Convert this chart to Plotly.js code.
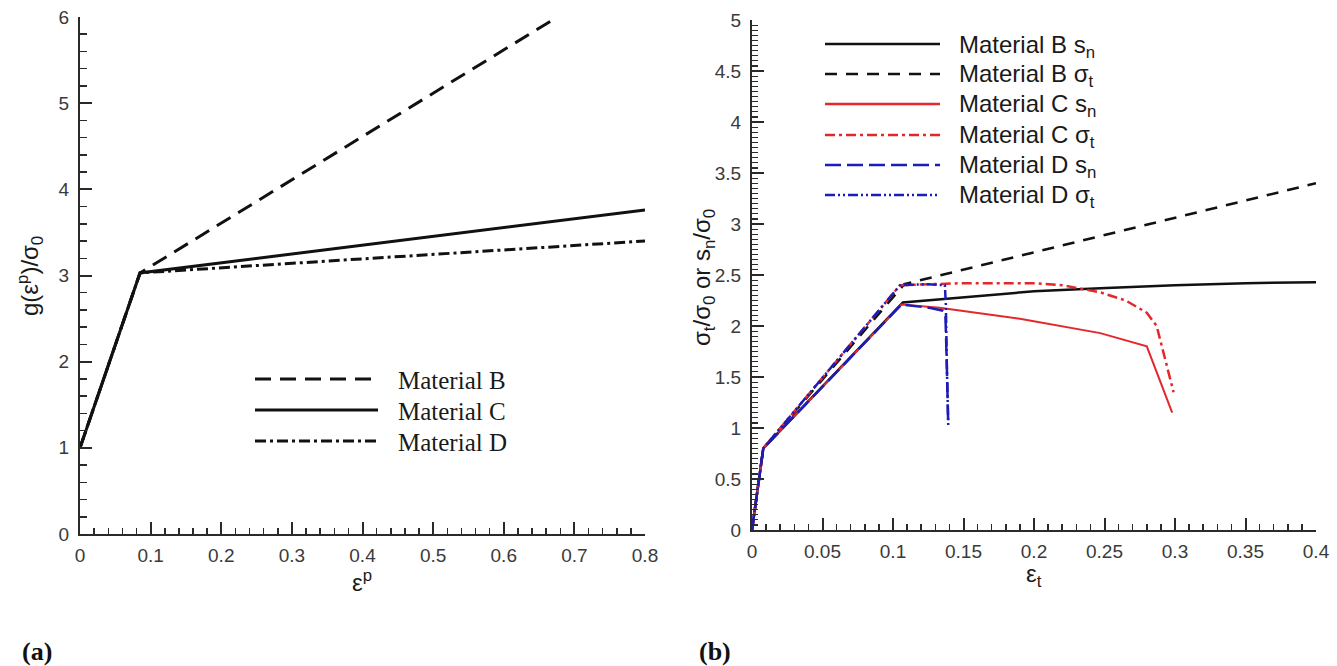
<!DOCTYPE html>
<html>
<head>
<meta charset="utf-8">
<script src="https://cdn.plot.ly/plotly-3.0.1.min.js"></script>
<style>
  html, body { margin: 0; padding: 0; background: #fff; }
  #chart { width: 1337px; height: 666px; }
</style>
</head>
<body>
<div id="chart"></div>
<script>
// ---- (a) hardening functions g(eps_p)/sigma_0 ----
const epsP_B = [0, 0.085, 0.676];
const g_B    = [1, 3.03, 6.0];
const epsP_C = [0, 0.085, 0.8];
const g_C    = [1, 3.03, 3.76];
const epsP_D = [0, 0.085, 0.8];
const g_D    = [1, 3.03, 3.40];
const legendA = ['Material B', 'Material C', 'Material D'];

// ---- (b) normalised traction vs. eps_t ----
const epsT_Bsn = [0, 0.008, 0.107, 0.133, 0.17, 0.2, 0.247, 0.3, 0.35, 0.4];
const Bsn      = [0, 0.8, 2.23, 2.26, 2.30, 2.34, 2.37, 2.40, 2.42, 2.43];
const epsT_Bst = [0, 0.008, 0.108, 0.4];
const Bst      = [0, 0.8, 2.41, 3.40];
const epsT_Csn = [0, 0.008, 0.106, 0.133, 0.19, 0.247, 0.28, 0.298];
const Csn      = [0, 0.8, 2.21, 2.18, 2.07, 1.93, 1.80, 1.15];
const epsT_Cst = [0, 0.008, 0.105, 0.15, 0.2, 0.22, 0.247, 0.265, 0.28, 0.287, 0.299];
const Cst      = [0, 0.8, 2.40, 2.42, 2.42, 2.40, 2.33, 2.25, 2.13, 2.0, 1.35];
const epsT_Dsn = [0, 0.008, 0.106, 0.125, 0.1355, 0.1372, 0.1382, 0.1392];
const Dsn      = [0, 0.8, 2.21, 2.18, 2.15, 2.10, 1.6, 1.02];
const epsT_Dst = [0, 0.008, 0.105, 0.125, 0.1368, 0.1375, 0.1382, 0.1392];
const Dst      = [0, 0.8, 2.40, 2.41, 2.40, 2.2, 1.6, 1.02];
const legendB = ['Material B s<sub>n</sub>', 'Material B σ<sub>t</sub>',
                 'Material C s<sub>n</sub>', 'Material C σ<sub>t</sub>',
                 'Material D s<sub>n</sub>', 'Material D σ<sub>t</sub>'];

const xTicksA = [0, 0.1, 0.2, 0.3, 0.4, 0.5, 0.6, 0.7, 0.8];
const yTicksA = [0, 1, 2, 3, 4, 5, 6];
const xTicksB = [0, 0.05, 0.1, 0.15, 0.2, 0.25, 0.3, 0.35, 0.4];
const yTicksB = [0, 0.5, 1, 1.5, 2, 2.5, 3, 3.5, 4, 4.5, 5];

// ---- styles ----
const W = 1337, H = 666;
const px = v => v / W;           // pixel -> paper (x)
const py = v => 1 - v / H;       // pixel -> paper (y)
const RED = '#e3282c', BLUE = '#1c1cb8', BLK = '#111';
const DASH_A = '16px,9px';
const DASHDOT_A = '11px,4px,3px,4px';
const DASH_B = '12px,9px';
const DASHDOT_B = '10px,4px,3px,4px';
const LONGDASH_B = '16px,6px';
const DASHDOTDOT_B = '10px,3px,2px,3px,2px,3px';

const tickFont = {family: 'Liberation Sans, Arial, sans-serif', size: 19, color: '#3a3a3a'};

function axisStyle(extra) {
  return Object.assign({
    showgrid: false, zeroline: false, showline: true,
    linecolor: '#2a2a2a', linewidth: 2,
    ticks: 'inside', ticklen: 12, tickwidth: 2, tickcolor: '#2a2a2a',
    tickfont: tickFont, fixedrange: true
  }, extra);
}

const traces = [
  // (a)
  {x: epsP_B, y: g_B, xaxis: 'x', yaxis: 'y', mode: 'lines', line: {color: BLK, width: 3, dash: DASH_A}},
  {x: epsP_C, y: g_C, xaxis: 'x', yaxis: 'y', mode: 'lines', line: {color: BLK, width: 3}},
  {x: epsP_D, y: g_D, xaxis: 'x', yaxis: 'y', mode: 'lines', line: {color: BLK, width: 3, dash: DASHDOT_A}},
  // (b)
  {x: epsT_Bst, y: Bst, xaxis: 'x2', yaxis: 'y2', mode: 'lines', line: {color: BLK, width: 2.5, dash: DASH_B}},
  {x: epsT_Bsn, y: Bsn, xaxis: 'x2', yaxis: 'y2', mode: 'lines', line: {color: BLK, width: 2.5}},
  {x: epsT_Csn, y: Csn, xaxis: 'x2', yaxis: 'y2', mode: 'lines', line: {color: RED, width: 2}},
  {x: epsT_Cst, y: Cst, xaxis: 'x2', yaxis: 'y2', mode: 'lines', line: {color: RED, width: 2.5, dash: DASHDOT_B}},
  {x: epsT_Dsn, y: Dsn, xaxis: 'x2', yaxis: 'y2', mode: 'lines', line: {color: BLUE, width: 2.5, dash: LONGDASH_B}},
  {x: epsT_Dst, y: Dst, xaxis: 'x2', yaxis: 'y2', mode: 'lines', line: {color: BLUE, width: 2.5, dash: DASHDOTDOT_B}}
];

// hand-drawn legend samples
const shapes = [];
const annotations = [];
const legA = [{d: DASH_A}, {d: null}, {d: DASHDOT_A}];
const rowsA = [379, 410, 441];
legendA.forEach((t, i) => {
  const line = {color: BLK, width: 3};
  if (legA[i].d) line.dash = legA[i].d;
  shapes.push({type: 'line', xref: 'paper', yref: 'paper',
    x0: px(255), x1: px(378), y0: py(rowsA[i]), y1: py(rowsA[i]), line: line});
  annotations.push({xref: 'paper', yref: 'paper', x: px(396), y: py(rowsA[i] + 1),
    xanchor: 'left', yanchor: 'middle', showarrow: false, text: t,
    font: {family: 'Liberation Serif, Times New Roman, serif', size: 25, color: '#1a1a1a'}});
});

const legBStyles = [
  {color: BLK, width: 2.5}, {color: BLK, width: 2.5, dash: DASH_B},
  {color: RED, width: 2.5}, {color: RED, width: 2.5, dash: DASHDOT_B},
  {color: BLUE, width: 2.5, dash: LONGDASH_B}, {color: BLUE, width: 2.5, dash: DASHDOTDOT_B}
];
const rowsB = [44, 74, 104, 135, 165, 195];
legendB.forEach((t, i) => {
  shapes.push({type: 'line', xref: 'paper', yref: 'paper',
    x0: px(825), x1: px(940), y0: py(rowsB[i]), y1: py(rowsB[i]), line: legBStyles[i]});
  annotations.push({xref: 'paper', yref: 'paper', x: px(957), y: py(rowsB[i] + 2),
    xanchor: 'left', yanchor: 'middle', showarrow: false, text: t,
    font: {family: 'Liberation Sans, Arial, sans-serif', size: 24, color: '#1a1a1a'}});
});

// axis titles and panel labels
const titleFont = {family: 'Liberation Sans, Arial, sans-serif', size: 24, color: '#1a1a1a'};
annotations.push(
  {xref: 'paper', yref: 'paper', x: px(30), y: py(276), textangle: -90, showarrow: false,
   xanchor: 'center', yanchor: 'middle', text: 'g(ε<sup>p</sup>)/σ<sub>0</sub>', font: titleFont},
  {xref: 'paper', yref: 'paper', x: px(362), y: py(564), showarrow: false,
   xanchor: 'center', yanchor: 'top', text: 'ε<sup>p</sup>', font: titleFont},
  {xref: 'paper', yref: 'paper', x: px(703), y: py(278), textangle: -90, showarrow: false,
   xanchor: 'center', yanchor: 'middle',
   text: 'σ<sub>t</sub>/σ<sub>0</sub> or s<sub>n</sub>/σ<sub>0</sub>', font: titleFont},
  {xref: 'paper', yref: 'paper', x: px(1034), y: py(558), showarrow: false,
   xanchor: 'center', yanchor: 'top', text: 'ε<sub>t</sub>', font: titleFont},
  {xref: 'paper', yref: 'paper', x: px(20), y: py(651), showarrow: false,
   xanchor: 'left', yanchor: 'middle', text: '<b>(a)</b>',
   font: {family: 'Liberation Serif, Times New Roman, serif', size: 26, color: '#111'}},
  {xref: 'paper', yref: 'paper', x: px(697), y: py(651), showarrow: false,
   xanchor: 'left', yanchor: 'middle', text: '<b>(b)</b>',
   font: {family: 'Liberation Serif, Times New Roman, serif', size: 26, color: '#111'}}
);

const layout = {
  width: W, height: H,
  margin: {l: 0, r: 0, t: 0, b: 0},
  paper_bgcolor: '#fff', plot_bgcolor: '#fff',
  showlegend: false,
  xaxis: axisStyle({domain: [px(80), px(645)], range: [0, 0.8], anchor: 'y',
    tickvals: xTicksA, ticktext: xTicksA.map(String), ticklabelstandoff: 3,
    minor: {ticks: 'inside', ticklen: 6, tickwidth: 1.5, dtick: 0.02, tick0: 0, tickcolor: '#2a2a2a'}}),
  yaxis: axisStyle({domain: [py(534), py(17)], range: [0, 6], anchor: 'x',
    tickvals: yTicksA, ticktext: yTicksA.map(String), ticklabelstandoff: 5,
    minor: {ticks: 'inside', ticklen: 7, tickwidth: 1.5, dtick: 0.2, tick0: 0, tickcolor: '#2a2a2a'}}),
  xaxis2: axisStyle({domain: [px(752), px(1316)], range: [0, 0.4], anchor: 'y2',
    tickvals: xTicksB, ticktext: xTicksB.map(String), ticklabelstandoff: 3,
    minor: {ticks: 'inside', ticklen: 6, tickwidth: 1.5, dtick: 0.01, tick0: 0, tickcolor: '#2a2a2a'}}),
  yaxis2: axisStyle({domain: [py(530), py(20)], range: [0, 5], anchor: 'x2',
    tickvals: yTicksB, ticktext: yTicksB.map(String), ticklabelstandoff: 5,
    minor: {ticks: 'inside', ticklen: 6, tickwidth: 1.2, dtick: 0.05, tick0: 0, tickcolor: '#2a2a2a'}}),
  shapes: shapes,
  annotations: annotations
};

Plotly.newPlot('chart', traces, layout, {staticPlot: true, displayModeBar: false});
</script>
</body>
</html>
